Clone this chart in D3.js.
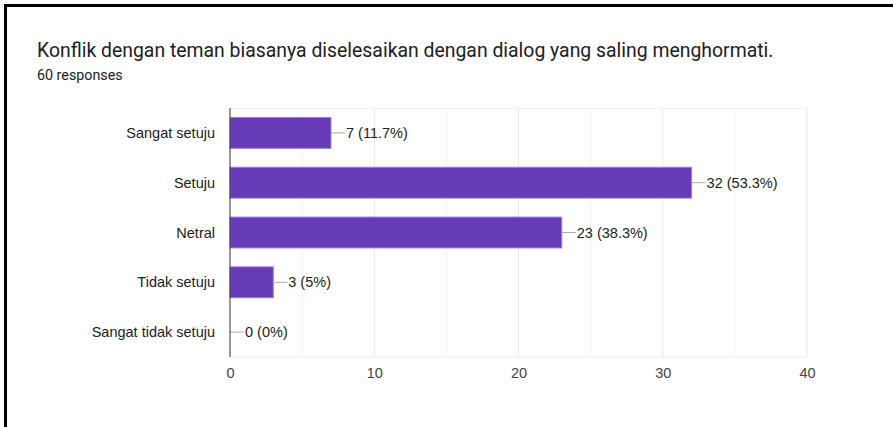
<!DOCTYPE html>
<html>
<head>
<meta charset="utf-8">
<script src="https://cdn.jsdelivr.net/npm/d3@7"></script>
<style>
  body { margin: 0; background: #fff; }
  #frame { position: absolute; left: 4px; top: 4px; width: 889px; height: 423px;
           border-left: 3px solid #000; border-top: 3px solid #000; }
  text { font-family: "Liberation Sans", Arial, sans-serif; }
</style>
</head>
<body>
<div id="frame"></div>
<svg id="chart" width="893" height="427" style="position:absolute;left:0;top:0"></svg>
<script>
// chart values
var title = "Konflik dengan teman biasanya diselesaikan dengan dialog yang saling menghormati.";
var subtitle = "60 responses";
var categories = ["Sangat setuju", "Setuju", "Netral", "Tidak setuju", "Sangat tidak setuju"];
var counts = [7, 32, 23, 3, 0];
var percents = ["11.7%", "53.3%", "38.3%", "5%", "0%"];
var ticks = [0, 10, 20, 30, 40];

var margin = {top: 108, right: 86, bottom: 70, left: 230};
var width = 893 - margin.left - margin.right;
var height = 427 - margin.top - margin.bottom;

var svg = d3.select("#chart");

svg.append("text")
    .attr("x", 37).attr("y", 57)
    .style("font-family", "Roboto, sans-serif")
    .style("font-size", "19.4px")
    .style("fill", "#202124")
    .text(title);

svg.append("text")
    .attr("x", 37).attr("y", 80)
    .style("font-family", "Roboto, sans-serif")
    .style("font-size", "14.3px")
    .style("fill", "#202124")
    .text(subtitle);

var g = svg.append("g")
    .attr("transform", "translate(" + margin.left + "," + margin.top + ")");

var x = d3.scaleLinear().domain([0, 40]).range([0, width]);
var y = d3.scaleBand().domain(categories).range([0, height]).paddingInner(0.38).paddingOuter(0.19);

// minor gridlines
g.selectAll(".minor")
    .data(d3.range(5, 40, 10))
    .enter().append("line")
    .attr("x1", function(d) { return x(d); })
    .attr("x2", function(d) { return x(d); })
    .attr("y1", 0).attr("y2", height)
    .attr("stroke", "#f3f3f3");

// major gridlines
g.selectAll(".major")
    .data(ticks.slice(1))
    .enter().append("line")
    .attr("x1", function(d) { return x(d); })
    .attr("x2", function(d) { return x(d); })
    .attr("y1", 0).attr("y2", height)
    .attr("stroke", "#e8e8e8");

// top and bottom border lines
g.append("line").attr("x1", 0).attr("x2", width).attr("y1", 0.5).attr("y2", 0.5).attr("stroke", "#f0f0f0");
g.append("line").attr("x1", 0).attr("x2", width).attr("y1", height).attr("y2", height).attr("stroke", "#ebebeb");

// bars
g.selectAll(".bar")
    .data(counts)
    .enter().append("rect")
    .attr("x", 0)
    .attr("y", function(d, i) { return y(categories[i]); })
    .attr("width", function(d) { return x(d); })
    .attr("height", y.bandwidth())
    .attr("fill", "#673ab7")
    .attr("stroke", function(d) { return d > 0 ? "#9c7fd6" : "none"; })
    .attr("stroke-width", 1);

// leader lines
g.selectAll(".leader")
    .data(counts)
    .enter().append("line")
    .attr("x1", function(d) { return x(d); })
    .attr("x2", function(d) { return x(d) + 14; })
    .attr("y1", function(d, i) { return y(categories[i]) + y.bandwidth() / 2; })
    .attr("y2", function(d, i) { return y(categories[i]) + y.bandwidth() / 2; })
    .attr("stroke", "#aaaaaa");

// value labels
g.selectAll(".val")
    .data(counts)
    .enter().append("text")
    .attr("x", function(d) { return x(d) + 15; })
    .attr("y", function(d, i) { return y(categories[i]) + y.bandwidth() / 2; })
    .attr("dy", "0.35em")
    .style("font-size", "14.5px")
    .style("fill", "#222")
    .text(function(d, i) { return d + " (" + percents[i] + ")"; });

// zero axis line
g.append("line")
    .attr("x1", 0).attr("x2", 0)
    .attr("y1", 0).attr("y2", height)
    .attr("stroke", "#333").attr("stroke-width", 1);

// category labels
g.selectAll(".cat")
    .data(categories)
    .enter().append("text")
    .attr("x", -15)
    .attr("y", function(d) { return y(d) + y.bandwidth() / 2; })
    .attr("dy", "0.35em")
    .attr("text-anchor", "end")
    .style("font-size", "14.5px")
    .style("fill", "#222")
    .text(function(d) { return d; });

// x axis tick labels
var xAxis = g.append("g")
    .attr("transform", "translate(0," + height + ")")
    .call(d3.axisBottom(x).tickValues(ticks).tickSize(0).tickPadding(11));
xAxis.select(".domain").remove();
xAxis.selectAll("text")
    .style("font-family", "'Liberation Sans', Arial, sans-serif")
    .style("font-size", "14.5px")
    .style("fill", "#444");
</script>
</body>
</html>
